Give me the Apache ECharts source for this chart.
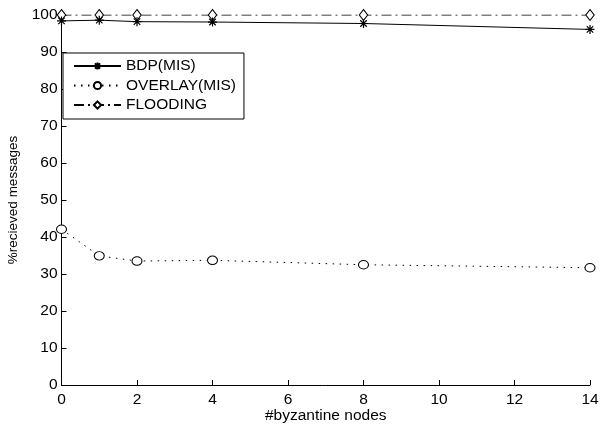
<!DOCTYPE html>
<html><head><meta charset="utf-8">
<script src="https://cdn.jsdelivr.net/npm/echarts@6/dist/echarts.min.js"></script>
<style>html,body{margin:0;padding:0;background:#fff}#c{width:605px;height:426px}</style>
</head><body><div id="c"></div>
<script>
const xValues = [0, 1, 2, 4, 8, 14];
const bdp = [98.4, 98.6, 98.2, 98.1, 97.7, 96.1];
const overlay = [42.1, 34.9, 33.5, 33.7, 32.5, 31.7];
const flooding = [100, 100, 100, 100, 100, 100];
const seriesNames = ['BDP(MIS)', 'OVERLAY(MIS)', 'FLOODING'];

const F = 'Liberation Sans, Arial, sans-serif';
const FS = 15.5;
const asterisk = 'path://M0,-5L0,5M-5,0L5,0M-3.6,-3.6L3.6,3.6M-3.6,3.6L3.6,-3.6';
const pair = (arr) => xValues.map((x, i) => [x, arr[i]]);

const chart = echarts.init(document.getElementById('c'), null, {renderer: 'canvas'});
chart.setOption({
  animation: false,
  backgroundColor: '#fff',
  grid: {left: 61.5, right: 15, top: 15, bottom: 41, containLabel: false, outerBoundsMode: 'none'},
  legend: {
    left: 63, top: 53, orient: 'vertical',
    backgroundColor: '#fff', borderColor: '#000', borderWidth: 1,
    padding: [5, 8, 6, 10], itemGap: 3.5, itemWidth: 47, itemHeight: 9,
    textStyle: {fontFamily: F, fontSize: FS, color: '#000'},
    data: seriesNames
  },
  xAxis: {
    type: 'value', min: 0, max: 14, interval: 2,
    name: '#byzantine nodes', nameLocation: 'middle', nameGap: 23, nameMoveOverlap: false,
    nameTextStyle: {fontFamily: F, fontSize: FS, color: '#000'},
    axisLine: {show: true, lineStyle: {color: '#000', width: 1}},
    axisTick: {show: true, inside: true, length: 5, lineStyle: {color: '#000'}},
    axisLabel: {fontFamily: F, fontSize: FS, color: '#000', margin: 7},
    splitLine: {show: false}
  },
  yAxis: {
    type: 'value', min: 0, max: 100, interval: 10,
    name: '%recieved messages', nameLocation: 'middle', nameGap: 41, nameMoveOverlap: false,
    nameTextStyle: {fontFamily: F, fontSize: 13.5, color: '#000'},
    axisLine: {show: true, lineStyle: {color: '#000', width: 1}},
    axisTick: {show: true, inside: true, length: 5, lineStyle: {color: '#000'}},
    axisLabel: {fontFamily: F, fontSize: FS, color: '#000', margin: 4},
    splitLine: {show: false}
  },
  series: [
    {
      name: seriesNames[0], type: 'line', data: pair(bdp),
      symbol: asterisk, symbolSize: 9, showAllSymbol: true,
      lineStyle: {color: '#000', width: 1, type: 'solid'},
      itemStyle: {color: 'none', borderColor: '#000', borderWidth: 1.2},
      z: 3
    },
    {
      name: seriesNames[1], type: 'line', data: pair(overlay),
      symbol: 'circle', symbolSize: [10, 8.5],
      lineStyle: {color: '#000', width: 1, type: [1.5, 5.5]},
      itemStyle: {color: '#fff', borderColor: '#000', borderWidth: 1},
      z: 2
    },
    {
      name: seriesNames[2], type: 'line', data: pair(flooding),
      symbol: 'diamond', symbolSize: [8.5, 11],
      lineStyle: {color: '#000', width: 1, type: [10, 4, 2, 4]},
      itemStyle: {color: '#fff', borderColor: '#000', borderWidth: 1},
      z: 2
    }
  ]
});
</script></body></html>
